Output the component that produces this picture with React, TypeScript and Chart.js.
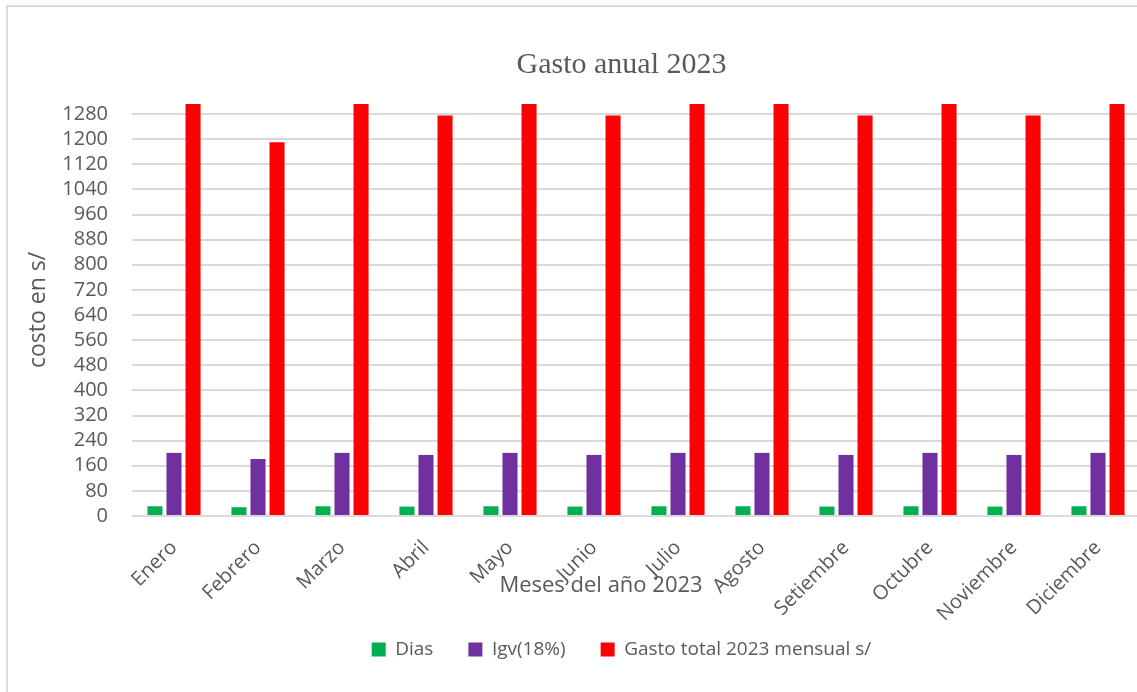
import React, { useEffect, useRef } from "react";
import { Chart, registerables } from "chart.js";

Chart.register(...registerables);

const months = ["Enero", "Febrero", "Marzo", "Abril", "Mayo", "Junio", "Julio", "Agosto", "Setiembre", "Octubre", "Noviembre", "Diciembre"];
const dias = [31, 28, 31, 30, 31, 30, 31, 31, 30, 31, 30, 31];
const igv = [201, 181.5, 201, 194.5, 201, 194.5, 201, 201, 194.5, 201, 194.5, 201];
const gastoTotal = [1317.5, 1190, 1317.5, 1275, 1317.5, 1275, 1317.5, 1317.5, 1275, 1317.5, 1275, 1317.5];
const seriesNames = ["Dias", "Igv(18%)", "Gasto total 2023 mensual s/"];
const seriesColors = ["#00b050", "#7030a0", "#ff0000"];
const yMax = 1312;
const yStep = 80;
const chartTitle = "Gasto anual 2023";
const yTitle = "costo en s/";
const xTitle = "Meses del año 2023";

const TEXT = "#595959";
const GRID = "#d9d9d9";
const SANS = '"Open Sans", sans-serif';

export default function App() {
  const ref = useRef<HTMLCanvasElement | null>(null);

  useEffect(() => {
    let chart: Chart | null = null;
    let cancelled = false;
    const make = () => {
      if (cancelled || !ref.current) return;
      const xTitlePlugin = {
        id: "xTitlePlugin",
        afterDraw(c: any) {
          const { ctx, chartArea } = c;
          ctx.save();
          ctx.font = `22px ${SANS}`;
          ctx.fillStyle = TEXT;
          ctx.textAlign = "center";
          ctx.textBaseline = "alphabetic";
          ctx.fillText(xTitle, (chartArea.left + chartArea.right) / 2 - 35, chartArea.bottom + 76);
          ctx.restore();
        },
      };
      chart = new Chart(ref.current, {
        type: "bar",
        data: {
          labels: months,
          datasets: [dias, igv, gastoTotal].map((d, i) => ({
            label: seriesNames[i],
            data: d,
            backgroundColor: seriesColors[i],
            borderWidth: 0,
            categoryPercentage: 0.68,
            barPercentage: 0.79,
            clip: 0,
            yAxisID: "y",
          })),
        },
        options: {
          animation: false,
          responsive: false,
          devicePixelRatio: 1,
          layout: { padding: { left: 0, right: 0, top: 0, bottom: 23 } },
          plugins: {
            title: {
              display: true,
              text: chartTitle,
              color: TEXT,
              font: { family: '"Liberation Serif", "Times New Roman", serif', size: 30, weight: "normal" },
              padding: { top: 47, bottom: 21 },
            },
            legend: {
              position: "bottom",
              labels: {
                color: TEXT,
                font: { family: SANS, size: 19 },
                boxWidth: 14,
                boxHeight: 14,
                padding: 35,
              },
            },
            tooltip: { enabled: false },
          },
          scales: {
            x: {
              grid: { display: false, drawTicks: false },
              border: { display: false },
              ticks: {
                color: TEXT,
                font: { family: SANS, size: 20 },
                maxRotation: 45,
                minRotation: 45,
                autoSkip: false,
                padding: 20,
              },
              afterFit(scale: any) {
                scale.height = 89;
                scale._computeLabelArea = () => undefined;
              },
            },
            y: {
              min: 0,
              max: yMax,
              grid: { color: GRID, lineWidth: 2, drawTicks: false },
              border: { display: false },
              ticks: {
                stepSize: yStep,
                includeBounds: false,
                autoSkip: false,
                color: TEXT,
                font: { family: SANS, size: 20 },
                padding: 24,
                callback: (v: any) => String(v),
              },
              title: {
                display: true,
                text: yTitle,
                color: TEXT,
                font: { family: SANS, size: 23 },
                padding: { top: 25, bottom: 0 },
              },
              afterFit(scale: any) {
                scale.width = 132;
              },
            },
            yRightSpace: {
              type: "linear",
              position: "right",
              display: true,
              grid: { display: false, drawTicks: false },
              border: { display: false },
              ticks: { display: false },
              afterFit(scale: any) {
                scale.width = 103;
              },
            },
          },
        },
        plugins: [xTitlePlugin],
      });
    };
    const fontsApi = (document as any).fonts;
    if (fontsApi && fontsApi.load) {
      Promise.all([
        fontsApi.load(`20px "Open Sans"`),
        fontsApi.load(`30px "Liberation Serif"`),
      ]).then(make, make);
    } else {
      make();
    }
    return () => {
      cancelled = true;
      if (chart) chart.destroy();
    };
  }, []);

  return (
    <div style={{ position: "fixed", left: 0, top: 0, width: 1137, height: 692, overflow: "hidden", background: "#fff" }}>
      <div
        style={{
          position: "absolute",
          left: 6,
          top: 5,
          width: 1240,
          height: 720,
          border: `2px solid ${GRID}`,
          boxSizing: "border-box",
        }}
      />
      <div style={{ position: "absolute", left: 0, top: 0, width: 1243, height: 692 }}>
        <canvas ref={ref} width={1243} height={692} style={{ display: "block" }} />
      </div>
    </div>
  );
}
